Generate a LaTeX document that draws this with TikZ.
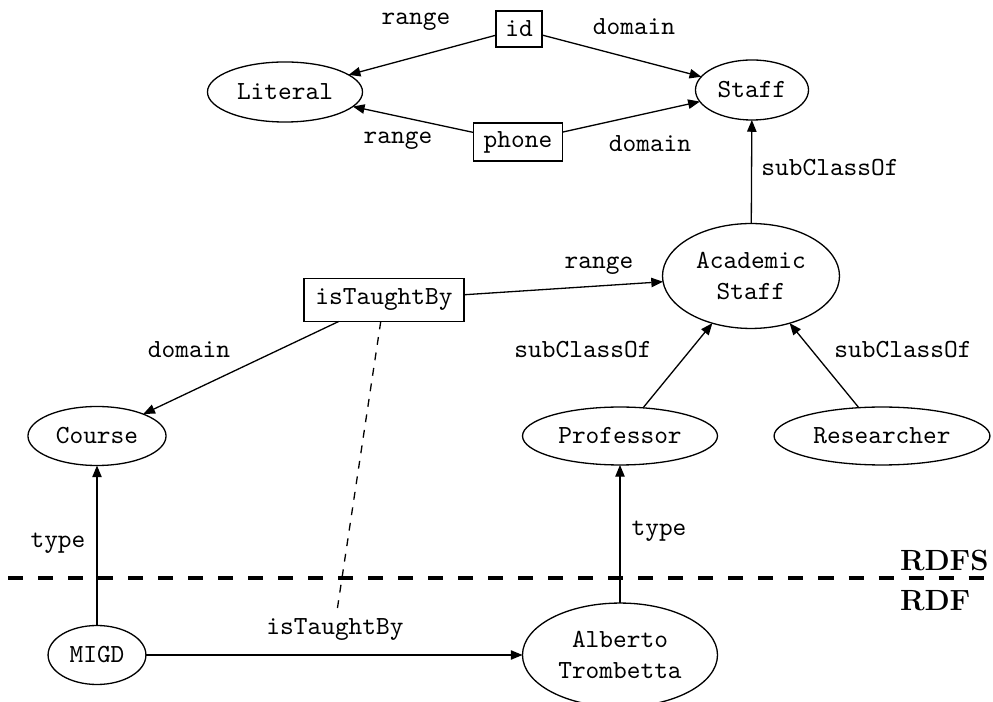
\documentclass[tikz,border=0pt]{standalone}
\usetikzlibrary{arrows.meta,shapes.geometric}
\begin{document}
\begin{tikzpicture}[x=0.3831pt,y=-0.3831pt,
  every node/.style={font=\ttfamily, inner sep=0pt, outer sep=0pt},
  cls/.style={draw, ellipse, line width=0.5pt, align=center},
  prop/.style={draw, rectangle, line width=0.5pt},
  lbl/.style={},
  layer/.style={font=\fontsize{11.2}{13}\selectfont\bfseries\rmfamily, anchor=west},
  edge/.style={line width=0.5pt, -{Triangle[length=4.5pt,width=3.6pt]}},
  sep/.style={line width=1.6pt, dash pattern=on 5.75pt off 5.75pt},
  link/.style={line width=0.5pt, dashed}
]
\useasboundingbox (0,0) rectangle (993,702);

% nodes
\node[prop, minimum width=17.6pt, minimum height=13.8pt] (id) at (519,29) {id};
\node[prop, minimum width=34pt, minimum height=14.6pt] (phone) at (518,142) {phone};
\node[cls, minimum width=59.4pt, minimum height=23pt] (literal) at (285,92) {Literal};
\node[cls, minimum width=43.3pt, minimum height=23pt] (staff) at (752,90) {Staff};
\node[cls, minimum width=67.8pt, minimum height=40.2pt] (acad) at (751,276) {Academic\\Staff};
\node[prop, minimum width=61.3pt, minimum height=16.5pt] (itb) at (384,300) {isTaughtBy};
\node[cls, minimum width=52.9pt, minimum height=22.6pt] (course) at (97,436) {Course};
\node[cls, minimum width=74.7pt, minimum height=22.2pt] (prof) at (620,436) {Professor};
\node[cls, minimum width=82.7pt, minimum height=22.2pt] (res) at (882,436) {Researcher};
\node[cls, minimum width=37.5pt, minimum height=22.6pt] (migd) at (97,655) {MIGD};
\node[cls, minimum width=74.7pt, minimum height=39.8pt] (alb) at (620,655) {Alberto\\Trombetta};

% labels
\node[lbl] (l1) at (416,22) {range};
\node[lbl] (l2) at (634,27) {domain};
\node[lbl] (l3) at (398,141) {range};
\node[lbl] (l4) at (650,144) {domain};
\node[lbl] (l5) at (830,168) {subClassOf};
\node[lbl] (l6) at (599,266) {range};
\node[lbl] (l7) at (189,350) {domain};
\node[lbl] (l8) at (583,350) {subClassOf};
\node[lbl] (l9) at (903,350) {subClassOf};
\node[lbl] (l10) at (58,543) {type};
\node[lbl] (l11) at (659,531) {type};
\node[lbl] (l12) at (335,630) {isTaughtBy};

\node[layer] (rdfs) at (900,560) {RDFS};
\node[layer] (rdf) at (900,601) {RDF};

% separator
\coordinate (sepL) at (8,578);
\coordinate (sepR) at (993,578);
\draw[sep] (sepL) -- (sepR);

% edges
\draw[edge] (id) -- (literal);
\draw[edge] (id) -- (staff);
\draw[edge] (phone) -- (literal);
\draw[edge] (phone) -- (staff);
\draw[edge] (acad) -- (staff);
\draw[edge] (itb) -- (acad);
\draw[edge] (itb) -- (course);
\draw[edge] (prof) -- (acad);
\draw[edge] (res) -- (acad);
\draw[edge] (migd) -- (course);
\draw[edge] (alb) -- (prof);
\draw[edge] (migd) -- (alb);

\coordinate (dashend) at (337,611);
\draw[link] (itb) -- (dashend);
\end{tikzpicture}
\end{document}
